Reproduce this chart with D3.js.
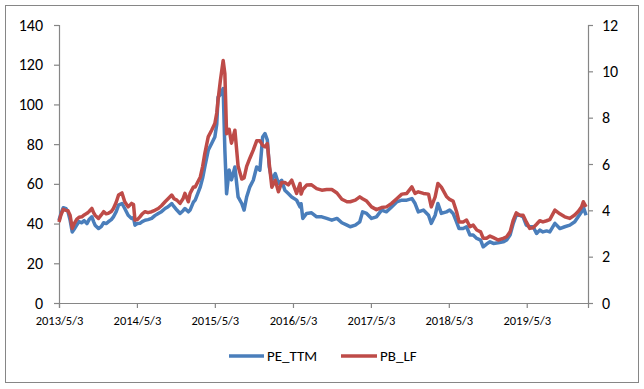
<!DOCTYPE html>
<html><head><meta charset="utf-8">
<script src="https://cdn.jsdelivr.net/npm/d3@7"></script>
<style>
body{margin:0;background:#fff}
svg{display:block}
text{font-family:Carlito,Calibri,Lato,"Open Sans",sans-serif;fill:#000}
</style>
</head><body><svg id="c" width="644" height="389"></svg>
<script>
const dates = ["2013-05-03","2013-05-12","2013-05-23","2013-06-05","2013-06-14","2013-06-24","2013-07-04","2013-07-12","2013-07-25","2013-08-05",
"2013-08-18","2013-08-29","2013-09-11","2013-09-21","2013-10-04","2013-10-12","2013-10-19","2013-11-04","2013-11-17","2013-11-28",
"2013-12-10","2013-12-20","2014-01-03","2014-01-13","2014-01-26","2014-02-06","2014-02-22","2014-03-07","2014-03-23","2014-04-08",
"2014-04-17","2014-04-24","2014-05-05","2014-05-17","2014-05-28","2014-06-10","2014-06-24","2014-07-11","2014-07-26","2014-08-11",
"2014-08-26","2014-09-12","2014-09-26","2014-10-13","2014-10-24","2014-11-06","2014-11-21","2014-12-05","2014-12-14","2014-12-30",
"2015-01-07","2015-01-23","2015-01-31","2015-02-24","2015-03-07","2015-03-17","2015-04-02","2015-04-18","2015-05-03","2015-05-12",
"2015-05-18","2015-05-29","2015-06-11","2015-06-19","2015-06-27","2015-07-09","2015-07-20","2015-08-05","2015-08-20","2015-09-06",
"2015-09-17","2015-09-29","2015-10-14","2015-10-30","2015-11-15","2015-11-30","2015-12-13","2015-12-24","2016-01-04","2016-01-13",
"2016-01-25","2016-02-10","2016-02-25","2016-03-11","2016-03-26","2016-04-11","2016-04-27","2016-05-20","2016-06-05","2016-06-10",
"2016-06-18","2016-07-06","2016-07-29","2016-08-22","2016-09-15","2016-10-08","2016-11-01","2016-11-25","2016-12-18","2017-01-11",
"2017-01-26","2017-02-19","2017-03-12","2017-03-25","2017-04-13","2017-05-06","2017-05-29","2017-06-22","2017-07-15","2017-08-08",
"2017-09-01","2017-09-25","2017-10-18","2017-11-11","2017-11-26","2017-12-11","2018-01-04","2018-01-28","2018-02-10","2018-02-28",
"2018-03-13","2018-03-29","2018-04-22","2018-05-07","2018-05-23","2018-06-08","2018-06-20","2018-07-09","2018-07-25","2018-08-10",
"2018-08-25","2018-09-11","2018-09-29","2018-10-11","2018-10-27","2018-11-12","2018-11-28","2018-12-20","2019-01-13","2019-01-29",
"2019-02-14","2019-03-01","2019-03-15","2019-03-31","2019-04-16","2019-05-01","2019-05-17","2019-06-02","2019-06-18","2019-07-03",
"2019-07-18","2019-08-04","2019-08-19","2019-09-12","2019-10-05","2019-10-28","2019-11-21","2019-12-14","2019-12-30","2020-01-15",
"2020-01-23","2020-02-05"];

const peTTM = [41.7,45,48,47.5,46,41.7,35.8,37,39.2,41,
40.4,41.5,40,42,43.4,41,39.2,37.5,38.5,40.4,
40,40.9,42,43.4,46,49.3,50.1,47.6,44.2,42.6,
43,39.2,40,40.1,41,41.7,42,42.6,44,45.1,
46,47.6,48.5,50.1,48.5,46.8,45.1,46.5,47.6,45.9,
46.8,50.9,51.8,58.5,63,68.5,76.9,80.3,83.6,90,
103.7,105,108,77,55,67,62,68.5,53.4,50.1,
46.8,53.4,58.5,61.8,68.5,66.9,83.6,85.3,82,68.5,
61.8,65.2,60.2,61.8,56.8,55.1,53.4,51.8,48.4,50,
42.6,45.1,45.4,43.4,43.4,42.6,41.7,42.6,40.4,39.2,
38.4,39.2,40.9,45.9,45.1,42.6,43.4,46.8,45.9,48.4,
50.9,51.8,51.8,52.6,50.1,45.9,46.8,44.2,40.1,44.2,
50.1,45.1,45.9,46.8,45.1,40.9,37.5,37.5,38.4,34.2,
34.2,32.5,31.7,28.3,29.7,30.8,30,30.3,30.8,31.7,
34.2,40.1,44.2,44.2,43.4,39.2,38.4,38.4,35,36.7,
35.8,36.3,35.8,40.1,37.5,38.4,39.2,40.9,43.4,45.9,
48.4,44.2];

const pbLF = [3.5,3.8,4.04,4.0,3.98,3.79,3.22,3.4,3.61,3.7,
3.72,3.8,3.87,3.95,4.08,3.9,3.79,3.65,3.8,3.94,
3.85,3.87,3.95,4.08,4.35,4.66,4.75,4.37,4.15,4.3,
4.25,3.58,3.6,3.72,3.85,3.94,3.9,3.94,4.0,4.08,
4.2,4.37,4.5,4.66,4.5,4.44,4.3,4.5,4.73,4.37,
4.73,5.01,5.01,5.44,5.9,6.45,7.17,7.46,7.75,8.2,
8.75,9.61,10.47,9.9,7.31,7.5,6.9,7.46,5.9,5.35,
5.4,5.9,6.25,6.6,7.0,7.0,6.8,6.74,6.88,6.0,
5.0,5.3,4.8,5.2,5.2,5.1,5.3,4.73,5.16,4.7,
4.9,5.09,5.1,4.94,4.87,4.9,4.9,4.75,4.48,4.37,
4.37,4.44,4.58,4.5,4.4,4.15,4.03,4.12,4.15,4.3,
4.5,4.7,4.73,5.01,4.73,4.8,4.73,4.7,4.15,4.58,
5.16,5.0,4.6,4.47,4.4,3.95,3.5,3.5,3.58,3.29,
3.36,3.15,3.07,2.8,2.8,2.89,2.82,2.72,2.79,2.86,
3.07,3.58,3.89,3.79,3.79,3.5,3.22,3.25,3.4,3.55,
3.5,3.55,3.6,4.01,3.85,3.72,3.65,3.8,3.95,4.15,
4.37,4.15];

const xTickLabels = ["2013/5/3","2014/5/3","2015/5/3","2016/5/3","2017/5/3","2018/5/3","2019/5/3"];
const leftTicks = [0,20,40,60,80,100,120,140];
const rightTicks = [0,2,4,6,8,10,12];
const seriesNames = ["PE_TTM","PB_LF"];
const xDomainEnd = "2020-02-14";

const svg = d3.select("#c");
const L = 59, R = 588, T = 25, B = 303;
const parse = d3.timeParse("%Y-%m-%d");
const parseTick = d3.timeParse("%Y/%m/%d");
const axisColor = "#868686";
const colors = ["#4A7EBB", "#BE4B48"];

svg.append("rect").attr("x",5.5).attr("y",5.5).attr("width",633).attr("height",377)
  .attr("fill","#fff").attr("stroke",axisColor).attr("stroke-width",1);

const x = d3.scaleTime().domain([parse(dates[0]), parse(xDomainEnd)]).range([L, R]);
const yL = d3.scaleLinear().domain([0,140]).range([B, T]);
const yR = d3.scaleLinear().domain([0,12]).range([B, T]);

const tickDates = xTickLabels.map(s => parseTick(s));

function styleAxis(g){
  g.select(".domain").attr("stroke", axisColor).attr("stroke-width",1.2);
  g.selectAll(".tick line").attr("stroke", axisColor).attr("stroke-width",1.2);
}

const gx = svg.append("g").attr("transform",`translate(0,${B})`)
  .call(d3.axisBottom(x).tickValues(tickDates).tickSizeOuter(0).tickSize(5).tickPadding(8)
        .tickFormat((d,i)=>xTickLabels[i]));
styleAxis(gx);
gx.selectAll("text").attr("font-size","12.5px").style("font-family",'Carlito,Calibri,Lato,sans-serif');

const gl = svg.append("g").attr("transform",`translate(${L},0)`)
  .call(d3.axisLeft(yL).tickValues(leftTicks).tickSizeOuter(0).tickSize(5).tickPadding(11));
styleAxis(gl);
gl.selectAll("text").attr("font-size","16px");

const gr = svg.append("g").attr("transform",`translate(${R},0)`)
  .call(d3.axisRight(yR).tickValues(rightTicks).tickSizeOuter(0).tickSize(5).tickPadding(9));
styleAxis(gr);
gr.selectAll("text").attr("font-size","16px");

const pts = dates.map((d,i)=>({d:parse(d), pe:peTTM[i], pb:pbLF[i]}));
const linePE = d3.line().x(p=>x(p.d)).y(p=>yL(p.pe));
const linePB = d3.line().x(p=>x(p.d)).y(p=>yR(p.pb));

svg.append("path").datum(pts).attr("d",linePE).attr("fill","none")
  .attr("stroke",colors[0]).attr("stroke-width",3.5).attr("stroke-linejoin","round");
svg.append("path").datum(pts).attr("d",linePB).attr("fill","none")
  .attr("stroke",colors[1]).attr("stroke-width",3.5).attr("stroke-linejoin","round");

// legend
const legY = 356;
const leg = [{x1:229,x2:264,tx:267},{x1:341,x2:377,tx:380}];
leg.forEach((l,i)=>{
  svg.append("line").attr("x1",l.x1).attr("x2",l.x2).attr("y1",legY).attr("y2",legY)
    .attr("stroke",colors[i]).attr("stroke-width",3.5);
  svg.append("text").attr("x",l.tx).attr("y",legY).attr("dy","0.35em")
    .attr("font-size","15px").text(seriesNames[i]);
});
</script>
</body></html>
